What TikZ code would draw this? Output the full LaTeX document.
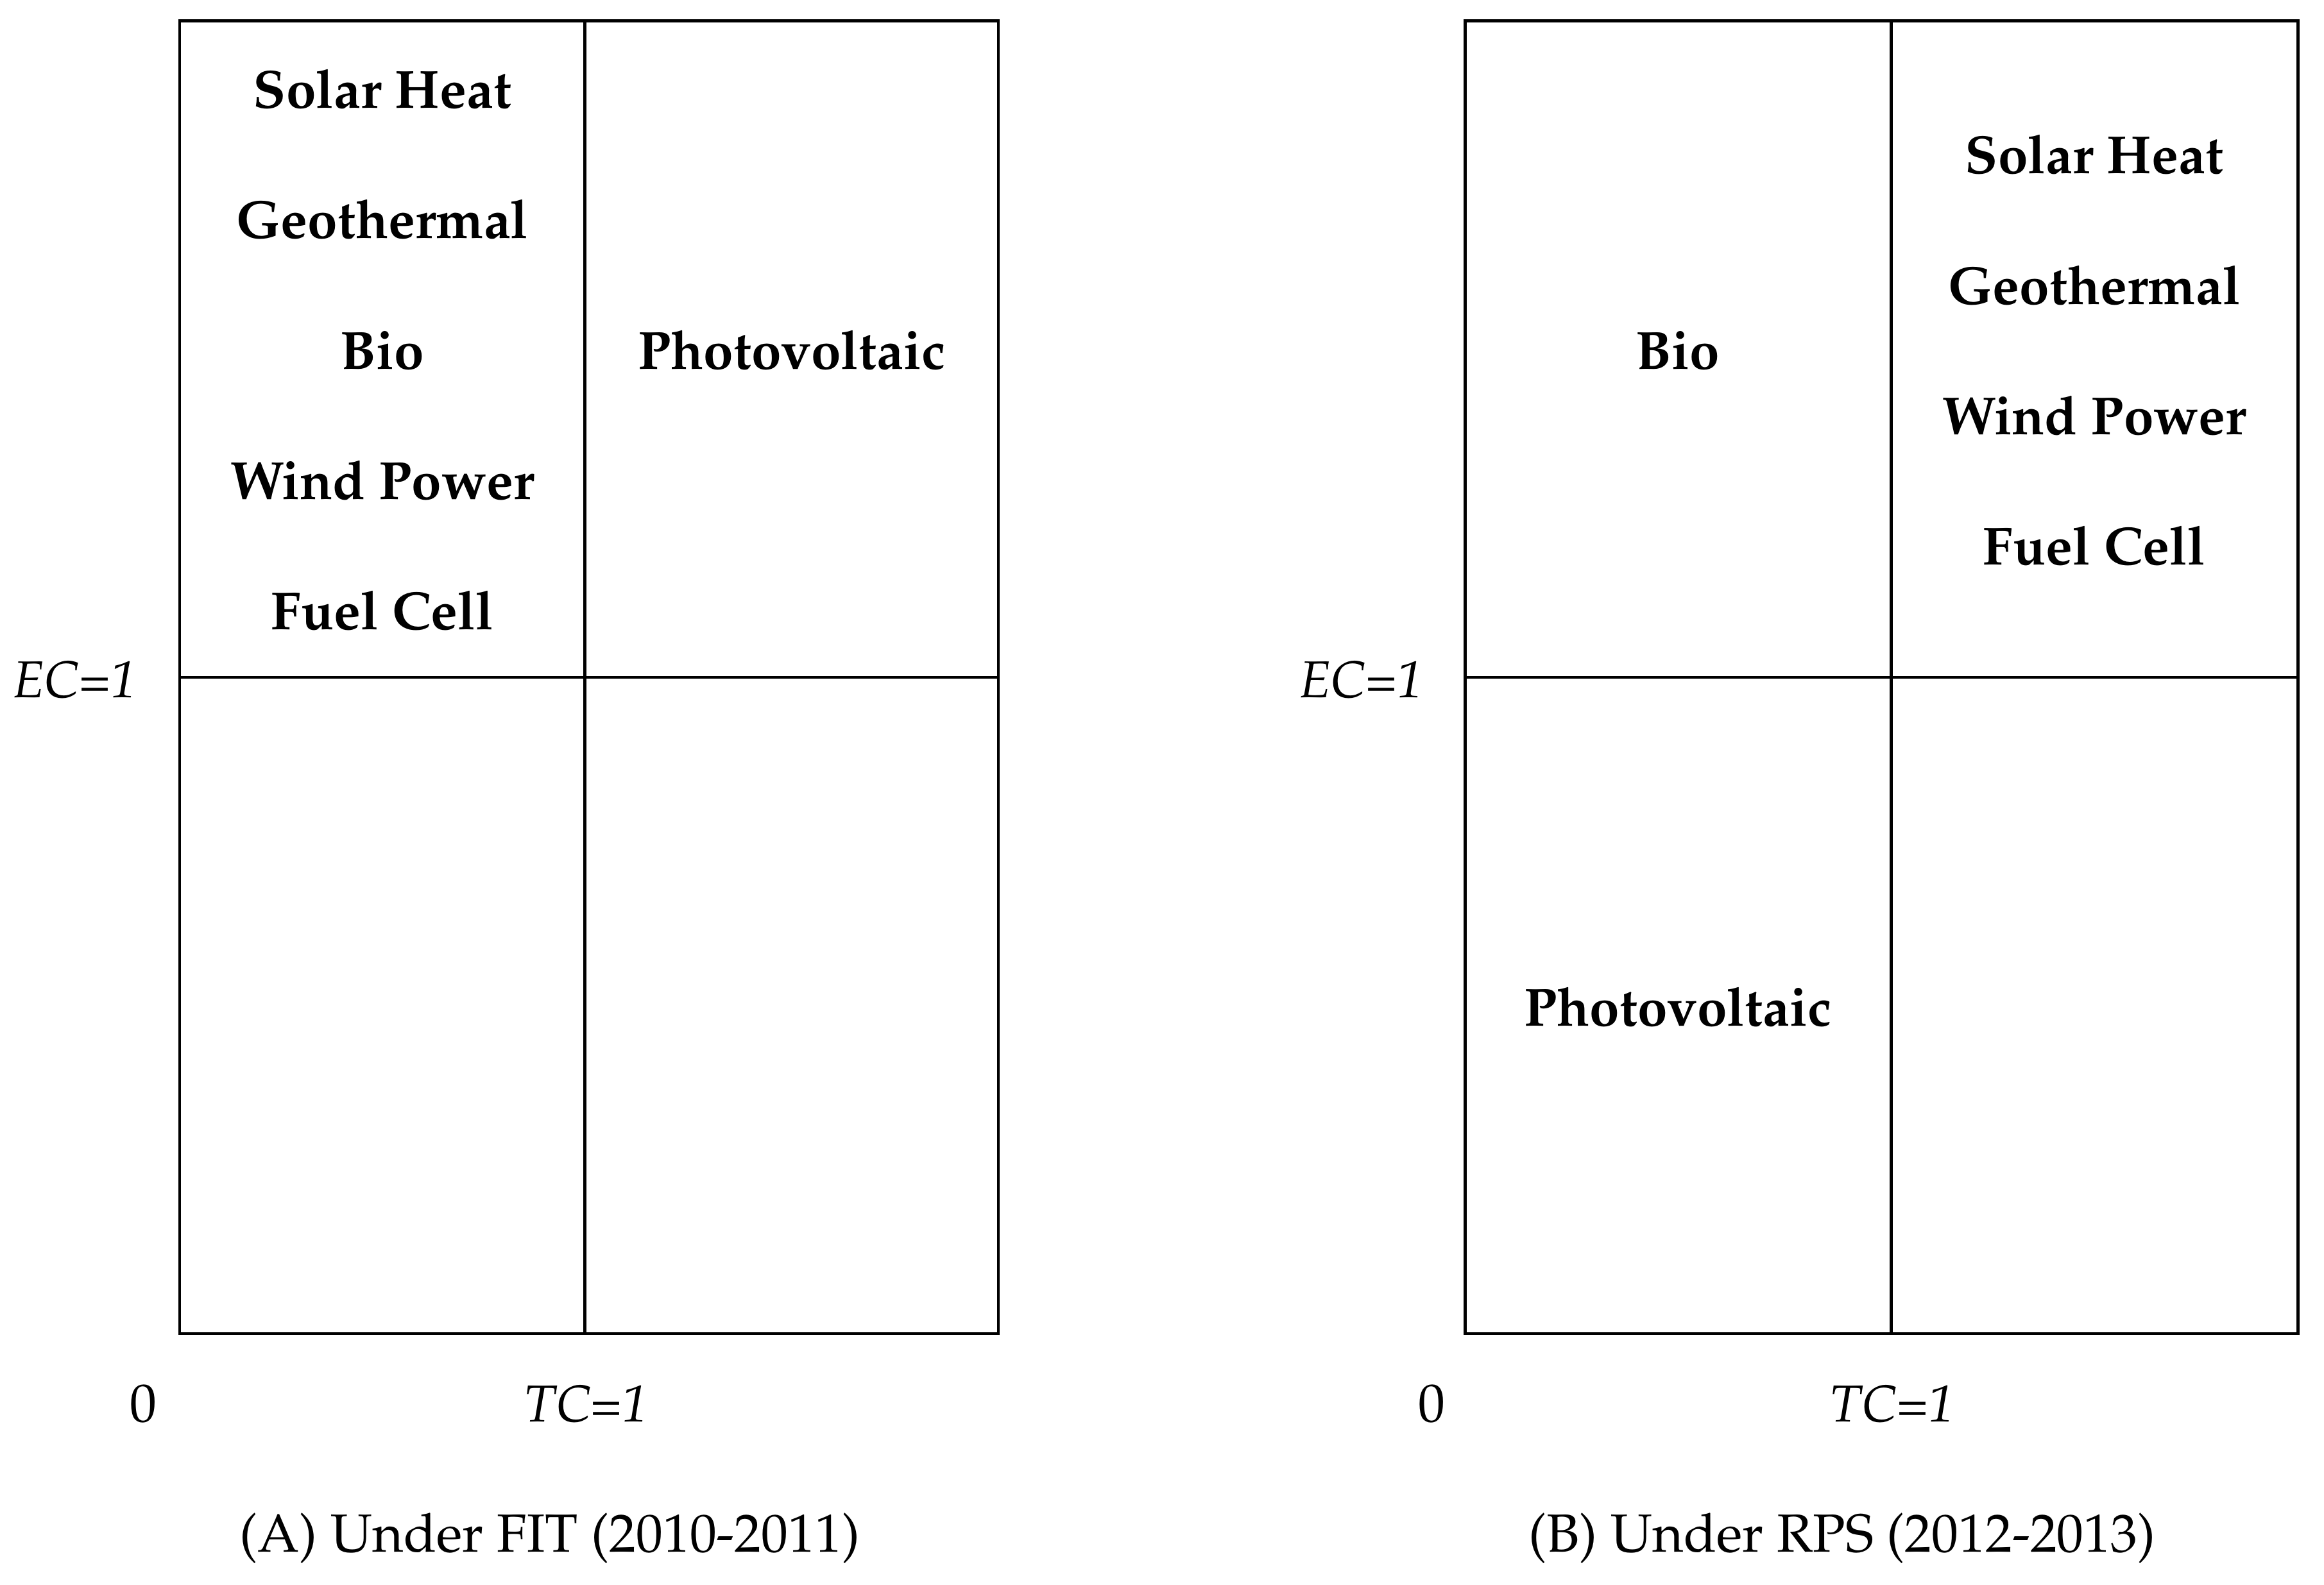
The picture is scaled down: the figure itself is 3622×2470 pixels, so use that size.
\documentclass[tikz,border=0pt]{standalone}
\usepackage[T1]{fontenc}
\usepackage{mathpazo}
\begin{document}
\begin{tikzpicture}[x=0.01cm,y=-0.01cm,
  frame/.style={line width=1.4pt,line join=miter},
  lbl/.style={inner sep=0pt,anchor=base,font=\fontsize{23.8}{28}\selectfont\bfseries},
  axis/.style={inner sep=0pt,anchor=base,font=\fontsize{23}{27}\selectfont\itshape},
  plain/.style={inner sep=0pt,anchor=base,font=\fontsize{23.8}{28}\selectfont}]
\useasboundingbox (0,0) rectangle (3622,2470);
% panel A
\draw[frame] (280,32.5) rectangle (1556,2079);
\draw[frame] (911.5,32.5) -- (911.5,2079);
\draw[frame] (280,1056) -- (1556,1056);
\node[lbl] (a1) at (596,169) {Solar Heat};
\node[lbl] (a2) at (596,372) {Geothermal};
\node[lbl] (a3) at (596,575) {Bio};
\node[lbl] (a4) at (596,778) {Wind Power};
\node[lbl] (a5) at (596,981) {Fuel Cell};
\node[lbl] (a6) at (1234,575) {Photovoltaic};
\node[axis,anchor=base east] (aec) at (214,1087) {EC=1};
\node[plain] (a0) at (223,2216) {0};
\node[axis] (atc) at (914,2216) {TC=1};
\node[plain] (acap) at (857,2419) {(A) Under FIT (2010-2011)};
% panel B
\draw[frame] (2283,32.5) rectangle (3581,2079);
\draw[frame] (2947.5,32.5) -- (2947.5,2079);
\draw[frame] (2283,1056) -- (3581,1056);
\node[lbl] (b1) at (3264,271) {Solar Heat};
\node[lbl] (b2) at (3264,474) {Geothermal};
\node[lbl] (b3) at (3264,677) {Wind Power};
\node[lbl] (b4) at (3264,880) {Fuel Cell};
\node[lbl] (b5) at (2615,575) {Bio};
\node[lbl] (b6) at (2615,1599) {Photovoltaic};
\node[axis,anchor=base east] (bec) at (2219,1087) {EC=1};
\node[plain] (b0) at (2231,2216) {0};
\node[axis] (btc) at (2949,2216) {TC=1};
\node[plain] (bcap) at (2871,2419) {(B) Under RPS (2012-2013)};
\end{tikzpicture}
\end{document}
